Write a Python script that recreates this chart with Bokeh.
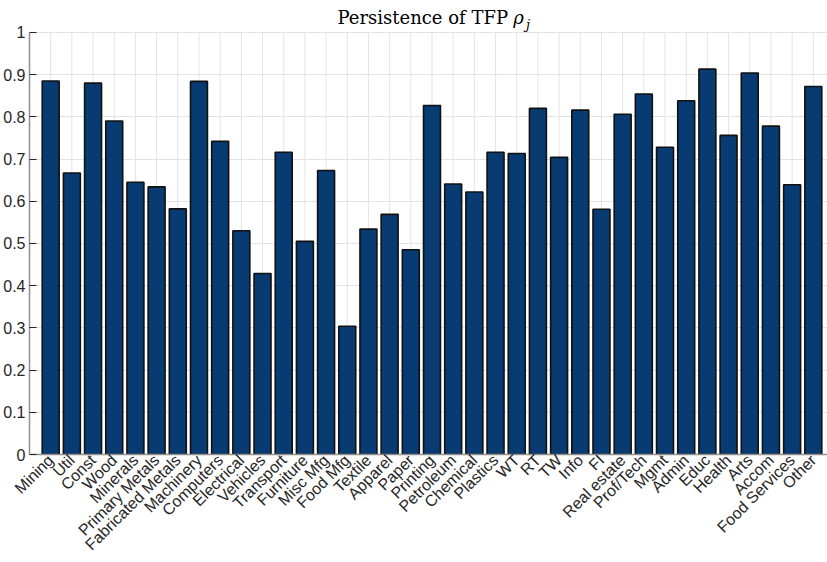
from bokeh.plotting import figure
from bokeh.models import FixedTicker, Range1d, Label
from bokeh.embed import file_html
from bokeh.resources import INLINE

sectors = ["Mining", "Util", "Const", "Wood", "Minerals", "Primary Metals",
           "Fabricated Metals", "Machinery", "Computers", "Electrical", "Vehicles",
           "Transport", "Furniture", "Misc Mfg", "Food Mfg", "Textile", "Apparel",
           "Paper", "Printing", "Petroleum", "Chemical", "Plastics", "WT", "RT", "TW",
           "Info", "FI", "Real estate", "Prof/Tech", "Mgmt", "Admin", "Educ", "Health",
           "Arts", "Accom", "Food Services", "Other"]
rho = [0.885, 0.667, 0.880, 0.790, 0.645, 0.634, 0.582, 0.884, 0.742, 0.530, 0.429,
       0.716, 0.505, 0.673, 0.304, 0.534, 0.569, 0.485, 0.827, 0.641, 0.622, 0.716,
       0.713, 0.820, 0.704, 0.816, 0.581, 0.806, 0.854, 0.728, 0.838, 0.913, 0.756,
       0.904, 0.778, 0.639, 0.872]
y_ticks = [0, 0.1, 0.2, 0.3, 0.4, 0.5, 0.6, 0.7, 0.8, 0.9, 1]
y_tick_labels = ["0", "0.1", "0.2", "0.3", "0.4", "0.5", "0.6", "0.7", "0.8", "0.9", "1"]

xs = list(range(1, len(sectors) + 1))

p = figure(width=827, height=562, output_backend="svg", toolbar_location=None,
           x_range=Range1d(0, 37.67), y_range=Range1d(0, 1.0567),
           min_border_left=20, min_border_right=0, min_border_top=8, min_border_bottom=0)
p.outline_line_color = None
p.background_fill_color = "white"
p.border_fill_color = "white"

grid_color = "#e3e3e3"
# vertical grid lines at each category, limited to the 0..1 box
p.segment(x0=xs, y0=[0] * len(xs), x1=xs, y1=[1] * len(xs),
          line_color=grid_color, line_width=1, level="underlay")

p.vbar(x=xs, top=rho, width=0.8, fill_color="#073B72", line_color="#111111", line_width=1.6)

# axes
p.xaxis.ticker = FixedTicker(ticks=xs)
p.xaxis.major_label_overrides = {x: s for x, s in zip(xs, sectors)}
p.xaxis.major_label_orientation = 0.785398
p.yaxis.ticker = FixedTicker(ticks=y_ticks)
p.yaxis.major_label_overrides = {t: s for t, s in zip(y_ticks, y_tick_labels)}
p.yaxis.bounds = (0, 1)

for ax in (p.xaxis[0], p.yaxis[0]):
    ax.axis_line_color = "#8f8f8f"
    ax.axis_line_width = 1.5
    ax.major_label_text_font = "Liberation Sans"
    ax.major_label_text_font_size = "16px"
    ax.major_label_text_color = "#262626"
    ax.minor_tick_line_color = None
    ax.major_tick_out = 0
p.xaxis.major_tick_in = 0
p.xaxis.major_label_standoff = 3
p.yaxis.major_tick_in = 7
p.yaxis.major_tick_line_color = "#262626"
p.yaxis.major_label_standoff = 4

p.xgrid.grid_line_color = None
p.ygrid.ticker = FixedTicker(ticks=y_ticks)
p.ygrid.grid_line_color = grid_color
p.ygrid.grid_line_width = 1

# title (drawn inside the frame, above the 0..1 box)
p.add_layout(Label(x=22.59, y=1.0355, text="Persistence of TFP", text_align="right",
                   text_baseline="alphabetic", text_font="DejaVu Serif",
                   text_font_size="18px", text_color="black"))
p.add_layout(Label(x=22.83, y=1.0355, text="ρ", text_align="left",
                   text_baseline="alphabetic", text_font="DejaVu Serif",
                   text_font_style="italic", text_font_size="18px", text_color="black"))
p.add_layout(Label(x=23.44, y=1.019, text="j", text_align="left",
                   text_baseline="alphabetic", text_font="DejaVu Serif",
                   text_font_style="italic", text_font_size="13px", text_color="black"))

open("out.html", "w").write(file_html(p, INLINE))
